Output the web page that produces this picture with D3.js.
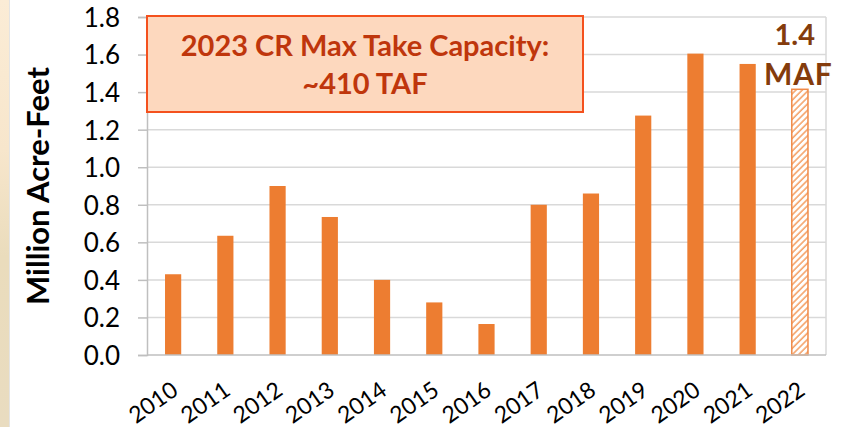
<!DOCTYPE html>
<html>
<head>
<meta charset="utf-8">
<script src="https://cdn.jsdelivr.net/npm/d3@7"></script>
<style>
  html, body { margin: 0; padding: 0; background: #ffffff; }
  svg { display: block; }
</style>
</head>
<body>
<svg id="chart" width="845" height="427"></svg>
<script>
// ---- data ----
const years = ['2010','2011','2012','2013','2014','2015','2016','2017','2018','2019','2020','2021','2022'];
const values = [0.43, 0.635, 0.90, 0.735, 0.40, 0.28, 0.165, 0.80, 0.86, 1.275, 1.605, 1.55, 1.415];
const projected = [false, false, false, false, false, false, false, false, false, false, false, false, true];
const yTicks = [0, 0.2, 0.4, 0.6, 0.8, 1.0, 1.2, 1.4, 1.6, 1.8];
const yTitle = 'Million Acre-Feet';
const boxLines = ['2023 CR Max Take Capacity:', '~410 TAF'];
const noteLines = ['1.4', 'MAF'];

// ---- layout ----
const W = 845, H = 427;
const plot = { left: 147, right: 826, top: 17, bottom: 355 };
const FONT = 'Lato, "Open Sans", "DejaVu Sans", sans-serif';

const svg = d3.select('#chart');

// left background strip (picture edge)
const defs = svg.append('defs');
const bg = defs.append('linearGradient').attr('id', 'bgstrip').attr('x1', 0).attr('y1', 0).attr('x2', 0).attr('y2', 1);
bg.append('stop').attr('offset', '0%').attr('stop-color', '#fbecd6');
bg.append('stop').attr('offset', '35%').attr('stop-color', '#f7e6cc');
bg.append('stop').attr('offset', '60%').attr('stop-color', '#eadcbc');
bg.append('stop').attr('offset', '100%').attr('stop-color', '#e9dcc0');
svg.append('rect').attr('x', 0).attr('y', 0).attr('width', 9).attr('height', H).attr('fill', 'url(#bgstrip)');
svg.append('line').attr('x1', 9.5).attr('x2', 9.5).attr('y1', 0).attr('y2', H).attr('stroke', '#e4e4e4').attr('stroke-width', 1);

// hatch pattern for projected bar
const pat = defs.append('pattern').attr('id', 'hatch').attr('patternUnits', 'userSpaceOnUse')
  .attr('width', 4.5).attr('height', 4.5).attr('patternTransform', 'rotate(45)');
pat.append('rect').attr('width', 4.5).attr('height', 4.5).attr('fill', '#ffffff');
pat.append('line').attr('x1', 1).attr('x2', 1).attr('y1', 0).attr('y2', 4.5)
  .attr('stroke', '#f4a46c').attr('stroke-width', 1.6);

// ---- scales ----
const x = d3.scaleBand().domain(years).range([plot.left, plot.right]).paddingInner(0.69).paddingOuter(0.345);
const y = d3.scaleLinear().domain([0, 1.8]).range([plot.bottom, plot.top]);

// gridlines
svg.append('g').selectAll('line').data(yTicks.filter(d => d > 0)).join('line')
  .attr('x1', plot.left).attr('x2', plot.right)
  .attr('y1', d => y(d)).attr('y2', d => y(d))
  .attr('stroke', '#d9d9d9').attr('stroke-width', 1.5);

// right border
svg.append('line').attr('x1', plot.right).attr('x2', plot.right).attr('y1', plot.top).attr('y2', plot.bottom)
  .attr('stroke', '#d9d9d9').attr('stroke-width', 1.5);

// y axis
const yAxis = d3.axisLeft(y).tickValues(yTicks).tickFormat(d3.format('.1f')).tickSizeOuter(0).tickSize(9).tickPadding(18);
const gy = svg.append('g').attr('transform', `translate(${plot.left},0)`).call(yAxis);
gy.select('.domain').attr('stroke', '#bfbfbf').attr('stroke-width', 1.5);
gy.selectAll('.tick line').attr('stroke', '#bfbfbf').attr('stroke-width', 1.5);
gy.selectAll('.tick text').attr('font-family', FONT).attr('font-size', 26).attr('fill', '#000').attr('dy', '0.36em');

// bars
const data = years.map((yr, i) => ({ yr, v: values[i], p: projected[i] }));
svg.append('g').selectAll('rect').data(data).join('rect')
  .attr('x', d => x(d.yr)).attr('width', x.bandwidth())
  .attr('y', d => y(d.v)).attr('height', d => y(0) - y(d.v))
  .attr('fill', d => d.p ? 'url(#hatch)' : '#ed7d31')
  .attr('stroke', d => d.p ? '#f08a48' : 'none')
  .attr('stroke-width', 1.5);

// x axis baseline
svg.append('line').attr('x1', plot.left).attr('x2', plot.right).attr('y1', plot.bottom).attr('y2', plot.bottom)
  .attr('stroke', '#bfbfbf').attr('stroke-width', 1.5);

// x labels (rotated)
const xAxis = d3.axisBottom(x).tickSize(0).tickPadding(0);
const gx = svg.append('g').attr('transform', `translate(0,${plot.bottom})`).call(xAxis);
gx.select('.domain').remove();
gx.selectAll('.tick text')
  .attr('font-family', FONT).attr('font-size', 23).attr('fill', '#000')
  .attr('text-anchor', 'end')
  .attr('dy', '0.72em')
  .attr('transform', 'translate(-3,25) rotate(-35)');

// y title
svg.append('text')
  .attr('transform', `translate(49,186) rotate(-90)`)
  .attr('text-anchor', 'middle')
  .attr('font-family', FONT).attr('font-weight', 'bold').attr('font-size', 31).attr('fill', '#000')
  .text(yTitle);

// annotation box
const bx = 147, by = 16, bw = 436, bh = 96;
svg.append('rect').attr('x', bx).attr('y', by).attr('width', bw).attr('height', bh)
  .attr('fill', '#fdd8be').attr('stroke', '#f4511e').attr('stroke-width', 2);
svg.append('g').selectAll('text').data(boxLines).join('text')
  .attr('x', bx + bw / 2).attr('y', (d, i) => 56 + i * 38)
  .attr('text-anchor', 'middle')
  .attr('font-family', FONT).attr('font-weight', 'bold').attr('font-size', 29).attr('fill', '#bf360c')
  .text(d => d);

// 1.4 MAF note
svg.append('g').selectAll('text').data(noteLines).join('text')
  .attr('x', (d, i) => i === 0 ? 815 : 764).attr('y', (d, i) => i === 0 ? 45 : 85)
  .attr('text-anchor', (d, i) => i === 0 ? 'end' : 'start')
  .attr('font-family', FONT).attr('font-weight', 'bold').attr('font-size', (d, i) => i === 0 ? 29 : 30).attr('fill', '#843c0c')
  .attr('letter-spacing', (d, i) => i === 0 ? 0 : 0.8)
  .text(d => d);
</script>
</body>
</html>
